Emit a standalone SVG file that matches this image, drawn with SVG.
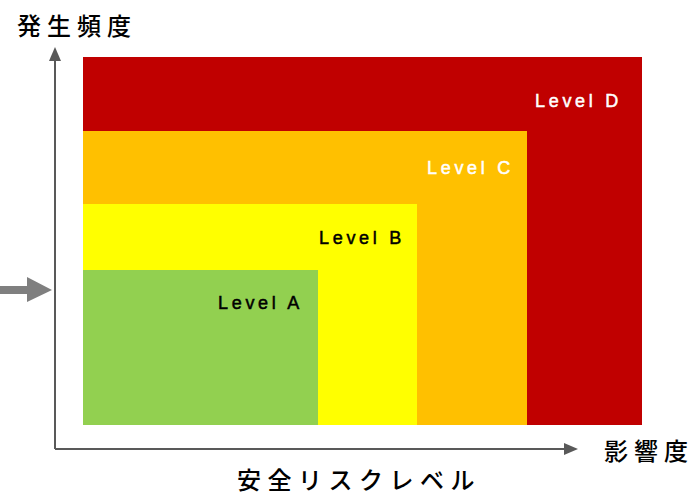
<svg xmlns="http://www.w3.org/2000/svg" width="693" height="495" viewBox="0 0 693 495">
<style>
.lvl{font-family:"Liberation Sans",Arial,sans-serif;font-size:18px;letter-spacing:3.7px;stroke-width:0.5px}
.jp{font-family:"Noto Sans CJK JP",sans-serif;font-size:24px;font-weight:500;fill:#000}
.axis{stroke:#595959;stroke-width:2;fill:none}
</style>
<g id="levelD"><rect x="83" y="57" width="559" height="368" fill="#C00000"/><text class="lvl" x="535" y="107" fill="#fff" stroke="#fff">Level D</text></g>
<g id="levelC"><rect x="83" y="131" width="444" height="294" fill="#FFC000"/><text class="lvl" x="427" y="174" fill="#fff" stroke="#fff">Level C</text></g>
<g id="levelB"><rect x="83" y="204" width="334" height="221" fill="#FFFF00"/><text class="lvl" x="319" y="244" fill="#000" stroke="#000">Level B</text></g>
<g id="levelA"><rect x="83" y="270" width="235" height="155" fill="#92D050"/><text class="lvl" x="218" y="309" fill="#000" stroke="#000">Level A</text></g>
<g id="connectors">
<path class="axis" d="M55 449 V60"/>
<polygon points="55,47 49,61 61,61" fill="#595959"/>
<path class="axis" d="M55 449 H564"/>
<polygon points="578,449 564,443 564,455" fill="#595959"/>
<polygon points="0,286 27,286 27,277 52,290 27,302 27,294 0,294" fill="#7F7F7F"/>
</g>
<g id="labels">
<text class="jp" x="17" y="35" letter-spacing="6">発生頻度</text>
<text class="jp" x="604" y="460" letter-spacing="6">影響度</text>
<text class="jp" x="237" y="489" letter-spacing="6.5">安全リスクレベル</text>
</g>
</svg>
